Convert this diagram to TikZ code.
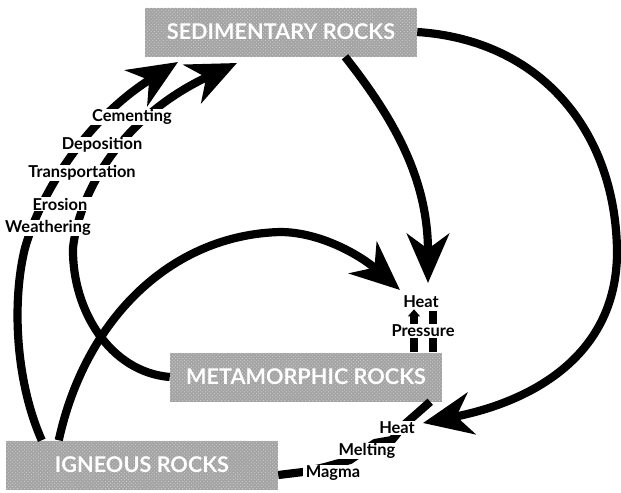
\documentclass[tikz,border=0pt]{standalone}
\usepackage{fontspec}
\setmainfont{Lato}
\usetikzlibrary{arrows.meta,positioning,patterns}

\begin{document}
\begin{tikzpicture}[x=0.03cm,y=-0.03cm,>={Stealth[length=42pt,width=36pt,inset=13pt]},
  rock/.style={fill=gray!72,postaction={pattern=crosshatch dots,pattern color=gray!35},
    minimum width=8.16cm,minimum height=1.47cm,text=white,
    font=\fontsize{18.5}{21}\selectfont\bfseries},
  flow/.style={line width=7pt},
  stage/.style={fill=white,inner xsep=2pt,inner ysep=0.5pt,
    font=\fontsize{14}{16}\selectfont\bfseries}]
\useasboundingbox (0,0) rectangle (621,492);

% the three rock boxes
\node[rock] (sed) at (281,32) {SEDIMENTARY ROCKS};
\node[rock] (met) at (306,377) {METAMORPHIC ROCKS};
\node[rock] (ign) at (142,465) {IGNEOUS ROCKS};

% free ends of the arrows
\coordinate (sedL) at (178,62);
\coordinate (sedR) at (237,63);
\coordinate (hp) at (400,290);
\coordinate (hs) at (428,283);
\coordinate (hm) at (423,423);

% igneous and metamorphic up to sedimentary
\draw[flow,->] ([xshift=1.08cm]ign.north west) .. controls (15,380) and (12,300) .. (25,248)
  .. controls (40,195) and (85,120) .. (sedL);
\draw[flow,->] (met.west) .. controls (110,372) and (72,310) .. (73,248)
  .. controls (78,200) and (115,120) .. (sedR);

% to heat and pressure
\draw[flow,->] ([xshift=1.59cm]ign.north west) .. controls (85,320) and (170,235) .. (280,232)
  .. controls (320,232) and (360,255) .. (hp);
\draw[flow,->] ([xshift=1.92cm]sed.south) .. controls (395,120) and (428,180) .. (hs);
\draw[flow,->] (sed.east) .. controls (540,40) and (615,130) .. (617,250)
  .. controls (618,350) and (540,400) .. (hm);

% metamorphic rocks upward, and down to igneous
\draw[flow,-{Triangle[length=6pt,width=10pt]}] ([xshift=3.24cm]met.north) -- ++(0,-43);
\draw[flow] ([xshift=3.81cm]met.north) -- ++(0,-41);
\draw[flow,line join=round] ([xshift=-0.36cm]met.south east) -- (405,424) -- (392,440)
  -- (375,443) -- (350,460) -- (325,467) -- (303,472) -- ([yshift=-0.3cm]ign.east);

% stage labels
\node[stage] (weath) at (48,228) {Weathering};
\node[stage,inner xsep=8pt] (eros) at (60,204) {Erosion};
\node[stage] (trans) at (82,173) {Transportation};
\node[stage] (depo) at (102,145) {Deposition};
\node[stage] (cem) at (132,117) {Cementing};
\node[stage] (heat) at (421,302) {Heat};
\node[stage] (press) at (423,331) {Pressure};
\node[stage] (heat2) at (397,428) {Heat};
\node[stage] (melt) at (367,451) {Melting};
\node[stage] (magma) at (333,473) {Magma};
\end{tikzpicture}
\end{document}
